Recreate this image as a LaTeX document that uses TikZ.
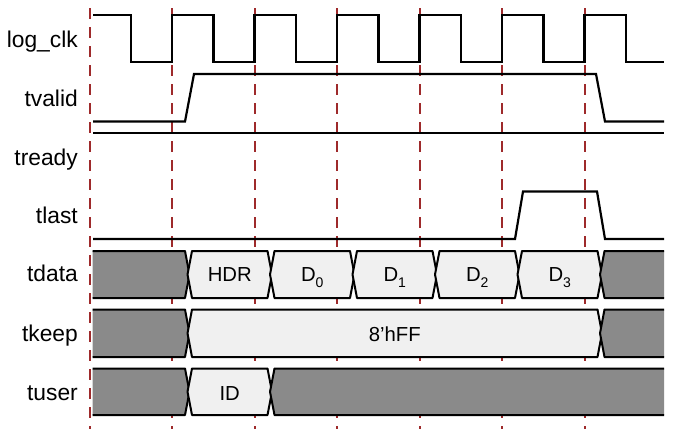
\documentclass[tikz,border=0pt]{standalone}
\usepackage{fontspec}
\setmainfont{Liberation Sans}
\definecolor{busdark}{RGB}{138,138,138}
\definecolor{buslight}{RGB}{240,240,240}
\definecolor{dashred}{RGB}{158,42,43}
\newcommand\bseg[5]{% style, left x, right x, top, bottom
  \pgfmathsetmacro\bmidy{(#4+#5)/2}
  \filldraw[busline,#1] (#2+3.5,#4) -- (#3-3.5,#4) -- (#3+1,\bmidy) -- (#3-3.5,#5) -- (#2+3.5,#5) -- (#2-1,\bmidy) -- cycle;}
\newcommand\bfirst[4]{% style, right x, top, bottom
  \pgfmathsetmacro\bmidy{(#3+#4)/2}
  \fill[#1] (92.5,#3) -- (#2-3.5,#3) -- (#2+1,\bmidy) -- (#2-3.5,#4) -- (92.5,#4) -- cycle;
  \draw[busline] (92.5,#3) -- (#2-3.5,#3) -- (#2+1,\bmidy) -- (#2-3.5,#4) -- (92.5,#4);}
\newcommand\blast[4]{% style, left x, top, bottom
  \pgfmathsetmacro\bmidy{(#3+#4)/2}
  \fill[#1] (664,#3) -- (#2+3.5,#3) -- (#2-1,\bmidy) -- (#2+3.5,#4) -- (664,#4) -- cycle;
  \draw[busline] (664,#3) -- (#2+3.5,#3) -- (#2-1,\bmidy) -- (#2+3.5,#4) -- (664,#4);}
\newcommand\subnum[1]{\raisebox{-5.5pt}{\fontsize{14}{14}\selectfont #1}}
\begin{document}
\begin{tikzpicture}[x=1pt,y=-1pt,
  sig/.style={line width=2.2pt, line join=miter},
  gridline/.style={draw=dashred, line width=1.5pt, dash pattern=on 11pt off 8pt},
  busline/.style={draw=black, line width=2pt, line join=round},
  dark/.style={fill=busdark},
  light/.style={fill=buslight},
  siglabel/.style={anchor=base east, font=\fontsize{22.8}{26}\selectfont, inner sep=0pt},
  buslabel/.style={anchor=base, font=\fontsize{20.3}{24}\selectfont, inner sep=0pt}]
\useasboundingbox (0,0) rectangle (674,429);
% grid
\foreach \x in {90,172,255,337,420,502,585}
  \draw[gridline] (\x,8) -- (\x,429);
% labels
\node[siglabel] (lclk) at (78,47.3) {log\_clk};
\node[siglabel] (lvalid) at (78,106.7) {tvalid};
\node[siglabel] (lready) at (78,165.7) {tready};
\node[siglabel] (llast) at (78,223.7) {tlast};
\node[siglabel] (ldata) at (78,281.7) {tdata};
\node[siglabel] (lkeep) at (78,341.7) {tkeep};
\node[siglabel] (luser) at (78,400) {tuser};
% clock
\draw[sig] (93,15) -- (131,15) -- (131,62) -- (172,62) -- (172,15)
  -- (213.5,15) -- (213.5,62) -- (254.5,62) -- (254.5,15)
  -- (296,15) -- (296,62) -- (337,62) -- (337,15)
  -- (378.5,15) -- (378.5,62) -- (419.5,62) -- (419.5,15)
  -- (461,15) -- (461,62) -- (502,62) -- (502,15)
  -- (543.5,15) -- (543.5,62) -- (584.5,62) -- (584.5,15)
  -- (626,15) -- (626,62) -- (664,62);
% tvalid
\draw[sig] (93,121.5) -- (185,121.5) -- (194,74) -- (596,74) -- (605,121.5) -- (664,121.5);
% tready
\draw[sig] (93,133) -- (664,133);
% tlast
\draw[sig] (93,239) -- (515,239) -- (523,191.5) -- (597,191.5) -- (605,239) -- (664,239);
% tdata
\bfirst{dark}{188.5}{251}{298}
\bseg{light}{188.5}{271}{251}{298}
\bseg{light}{271}{353.5}{251}{298}
\bseg{light}{353.5}{436}{251}{298}
\bseg{light}{436}{518.5}{251}{298}
\bseg{light}{518.5}{601}{251}{298}
\blast{dark}{601}{251}{298}
% tkeep
\bfirst{dark}{188.5}{309.5}{357}
\bseg{light}{188.5}{601}{309.5}{357}
\blast{dark}{601}{309.5}{357}
% tuser
\bfirst{dark}{188.5}{368.5}{415}
\bseg{light}{188.5}{271}{368.5}{415}
\blast{dark}{271}{368.5}{415}
% bus labels
\node[buslabel] (hdr) at (229.75,281.5) {HDR};
\node[buslabel] (d0) at (312.25,281.5) {D\subnum{0}};
\node[buslabel] (d1) at (394.75,281.5) {D\subnum{1}};
\node[buslabel] (d2) at (477.25,281.5) {D\subnum{2}};
\node[buslabel] (d3) at (559.75,281.5) {D\subnum{3}};
\node[buslabel] (keep) at (394.75,341.5) {8’hFF};
\node[buslabel] (id) at (229.75,400) {ID};
\end{tikzpicture}
\end{document}
